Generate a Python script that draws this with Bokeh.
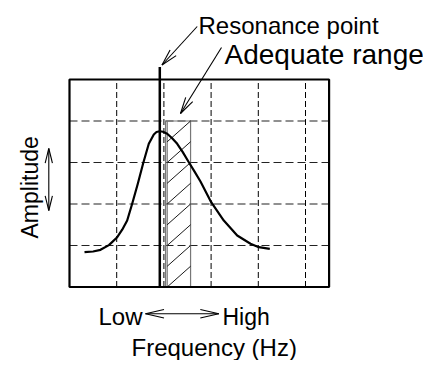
import math
from bokeh.plotting import figure
from bokeh.models import Range1d
from bokeh.core.properties import value
from bokeh.embed import file_html
from bokeh.resources import INLINE

# ---------------- data (grid units) ----------------
curve_freq = [0.318, 0.500, 0.657, 0.835, 1.011, 1.117, 1.222, 1.328, 1.447, 1.561,
              1.680, 1.786, 1.843, 1.913, 1.981, 2.070, 2.170, 2.282, 2.400, 2.528,
              2.650, 2.775, 3.002, 3.269, 3.553, 3.835, 4.011, 4.244]
curve_amp = [0.839, 0.855, 0.896, 1.010, 1.200, 1.380, 1.602, 2.005, 2.487, 2.983,
             3.451, 3.675, 3.735, 3.754, 3.740, 3.692, 3.590, 3.451, 3.250, 3.007,
             2.780, 2.542, 2.043, 1.602, 1.241, 1.041, 0.959, 0.920]
x_grid = [1, 2, 3, 4, 5]
y_grid = [1, 2, 3, 4]
box_x = [0, 5.5]
box_y = [0, 5]
resonance_freq = 1.913
resonance_top = 5.30
adequate_range = [2.07, 2.565]
adequate_top = 4.0

title_res = "Resonance point"
title_adq = "Adequate range"
label_amp = "Amplitude"
label_low = "Low"
label_high = "High"
label_freq = "Frequency (Hz)"

# ---------------- layout mapping (picture px -> grid units) ----------------
X0, SX = 69.0, 47.2
Y0, SY = 286.5, 41.5
W, H = 423, 360


def X(px):
    return (px - X0) / SX


def Y(py):
    return (Y0 - py) / SY


p = figure(width=W, height=H, output_backend="svg", toolbar_location=None,
           x_range=Range1d(X(0), X(W)), y_range=Range1d(Y(H), Y(0)),
           min_border=0, x_axis_type=None, y_axis_type=None)
p.outline_line_color = None
p.grid.visible = False
p.background_fill_color = "white"
p.border_fill_color = "white"

FONT = value("Liberation Sans")

# grid lines
p.segment(x0=[box_x[0]] * len(y_grid), x1=[box_x[1]] * len(y_grid), y0=y_grid, y1=y_grid,
          line_color="#222222", line_width=1.2, line_dash="8 4")
p.segment(x0=x_grid, x1=x_grid, y0=[box_y[0]] * len(x_grid), y1=[box_y[1]] * len(x_grid),
          line_color="black", line_width=1, line_dash="6 3")

# adequate range bar with hatch
p.quad(left=[adequate_range[0] - 0.035], right=[adequate_range[1]], bottom=[0], top=[adequate_top],
       fill_color=None, line_color="#777777", line_width=1.2)
p.segment(x0=[adequate_range[0]], x1=[adequate_range[0]], y0=[0], y1=[adequate_top],
          line_color="#777777", line_width=1.2)
hx0, hx1, hy0, hy1 = [], [], [], []
bw = adequate_range[1] - adequate_range[0]
k = -0.5
while k < adequate_top:
    ys, ye = k, k + 0.5
    xs, xe = adequate_range[0], adequate_range[1]
    if ys < 0:
        xs = adequate_range[0] + bw * (-ys / 0.5)
        ys = 0
    if ye > adequate_top:
        xe = adequate_range[0] + bw * ((adequate_top - k) / 0.5)
        ye = adequate_top
    hx0.append(xs); hx1.append(xe); hy0.append(ys); hy1.append(ye)
    k += 0.5
p.segment(x0=hx0, x1=hx1, y0=hy0, y1=hy1, line_color="black", line_width=0.9)

# resonance line
p.segment(x0=[resonance_freq], x1=[resonance_freq], y0=[0], y1=[resonance_top],
          line_color="black", line_width=2.5)

# curve
p.line(curve_freq, curve_amp, line_color="black", line_width=2.2, line_join="round")

# box
p.quad(left=[box_x[0]], right=[box_x[1]], bottom=[box_y[0]], top=[box_y[1]],
       fill_color=None, line_color="black", line_width=2.2)


# arrows (pixel layout)
def arrow(tail, tip, L, half_deg, both=False):
    xs0, ys0, xs1, ys1 = [X(tail[0])], [Y(tail[1])], [X(tip[0])], [Y(tip[1])]

    def head(tp, fr):
        dx, dy = fr[0] - tp[0], fr[1] - tp[1]
        n = math.hypot(dx, dy)
        ux, uy = dx / n, dy / n
        for s in (1, -1):
            a = math.radians(half_deg) * s
            rx = ux * math.cos(a) - uy * math.sin(a)
            ry = ux * math.sin(a) + uy * math.cos(a)
            xs0.append(X(tp[0])); ys0.append(Y(tp[1]))
            xs1.append(X(tp[0] + L * rx)); ys1.append(Y(tp[1] + L * ry))

    head(tip, tail)
    if both:
        head(tail, tip)
    p.segment(x0=xs0, y0=ys0, x1=xs1, y1=ys1, line_color="black", line_width=1.1)


arrow((196.7, 26), (161.5, 64.5), 17, 14)
arrow((221, 47), (180, 113), 17, 14)
arrow((48.3, 148), (48.3, 210), 15, 14, both=True)
arrow((145, 313.3), (218.3, 313.3), 19, 13, both=True)


def txt(px, py, s, size, angle=0.0):
    p.text(x=[X(px)], y=[Y(py)], text=[s], text_font=FONT, text_font_size=size,
           text_baseline="middle", text_align="left", text_color="black", angle=angle)


txt(198, 25, title_res, "24px")
txt(224, 54, title_adq, "28px")
txt(98, 316, label_low, "24px")
txt(222, 316, label_high, "23px")
txt(131, 347, label_freq, "24px")
txt(29, 238, label_amp, "23px", angle=math.pi / 2)

open("out.html", "w").write(file_html(p, INLINE))
